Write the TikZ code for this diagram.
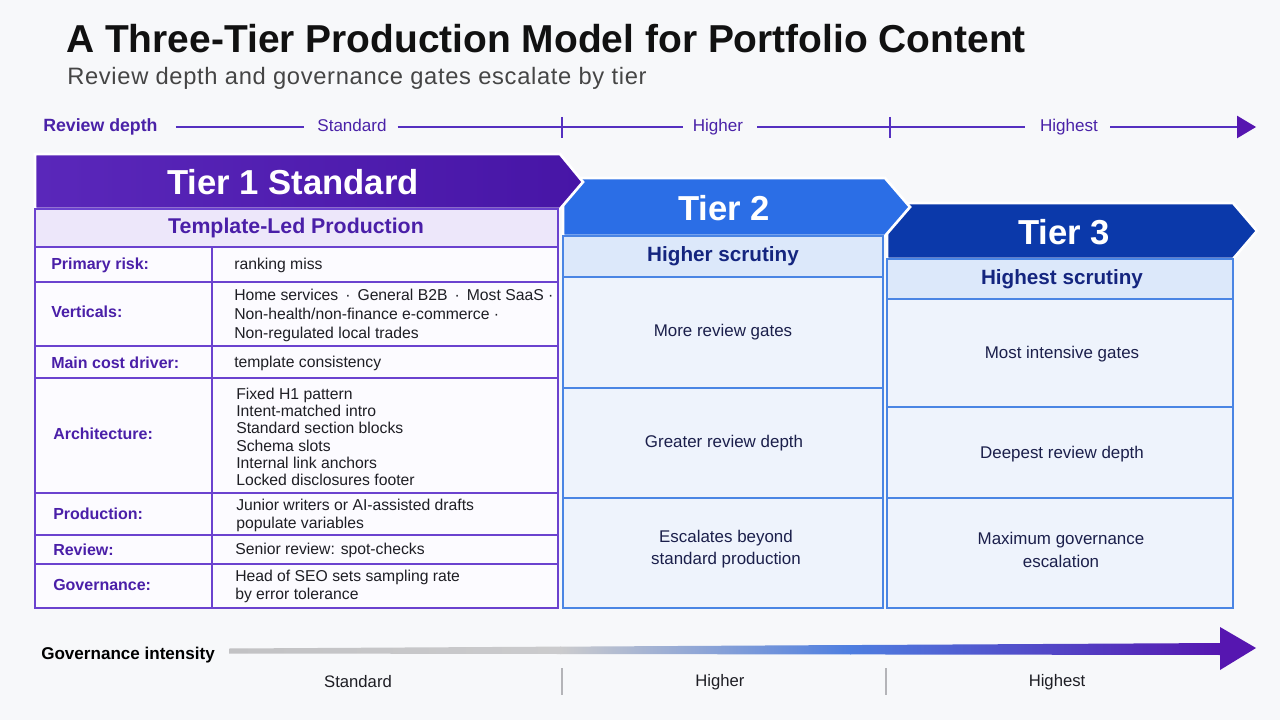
\documentclass[tikz,border=0pt]{standalone}
\usepackage{fontspec}
\setmainfont{Liberation Sans}
\definecolor{bg}{HTML}{F7F8FA}
\definecolor{ttl}{HTML}{111111}
\definecolor{subt}{HTML}{454545}
\definecolor{axp}{HTML}{5530C0}
\definecolor{axtxt}{HTML}{4A22A8}
\definecolor{pA}{HTML}{5A27BA}
\definecolor{pB}{HTML}{4715A6}
\definecolor{lav}{HTML}{EDE7FA}
\definecolor{pline}{HTML}{6B42CF}
\definecolor{ptxt}{HTML}{4A1FA8}
\definecolor{cell1}{HTML}{FCFBFF}
\definecolor{valtxt}{HTML}{1E1E24}
\definecolor{bT2}{HTML}{2B6EE6}
\definecolor{bT3}{HTML}{0B39AA}
\definecolor{bsub}{HTML}{DCE8FA}
\definecolor{bline}{HTML}{4A85E4}
\definecolor{bcell}{HTML}{EEF3FC}
\definecolor{ntxt}{HTML}{14257F}
\definecolor{btxt}{HTML}{1B1F4B}
\definecolor{gGray}{HTML}{C2C2C4}
\definecolor{gBlue}{HTML}{4E7EE0}
\definecolor{gPur}{HTML}{5616B0}
\definecolor{tickg}{HTML}{B4B4B8}
\tikzset{
  axisline/.style={draw=axp, line width=1pt},
  axtick/.style={draw=axp, line width=1pt},
  axlab/.style={font=\fontsize{12.8}{14}\selectfont, text=axtxt, inner sep=0pt, text height=0.9em, text depth=0.2em},
  hdr/.style={draw=white, line width=2pt, line join=miter},
  hdrtxt/.style={font=\bfseries\fontsize{26}{28}\selectfont, text=white},
  subtxt1/.style={font=\bfseries\fontsize{16}{18}\selectfont, text=ptxt},
  subtxt2/.style={font=\bfseries\fontsize{15.5}{18}\selectfont, text=ntxt},
  rowlab/.style={anchor=west, font=\bfseries\fontsize{12}{14}\selectfont, text=ptxt, inner sep=0pt},
  rowval/.style={anchor=west, align=left, font=\fontsize{11.8}{13}\selectfont, text=valtxt, inner sep=0pt},
  t1line/.style={draw=pline, line width=0.9pt},
  t2line/.style={draw=bline, line width=0.9pt},
  bodytxt/.style={align=center, font=\fontsize{12.7}{17}\selectfont, text=btxt},
  botlab/.style={font=\fontsize{12.5}{14}\selectfont, text=valtxt},
}
\begin{document}
\begin{tikzpicture}[x=0.75pt,y=-0.75pt]
\fill[bg] (0,0) rectangle (1280,720);
\useasboundingbox (0,0) rectangle (1280,720);

% Title
\node[anchor=base west, inner sep=0pt, font=\bfseries\fontsize{29.2}{32}\selectfont, text=ttl] (title) at (66,53) {A Three-Tier Production Model for Portfolio Content};
\node[anchor=base west, inner sep=0pt, font=\fontsize{17.8}{20}\selectfont\addfontfeature{LetterSpace=2.8}, text=subt] (subtitle) at (67,85) {Review depth and governance gates escalate by tier};

% Review depth axis
\node[axlab, anchor=west, font=\bfseries\fontsize{13.3}{15}\selectfont] (rd) at (43,127) {Review depth};
\node[axlab] (rstd) at (352,127) {Standard};
\node[axlab] (rhigh) at (718,127) {Higher};
\node[axlab] (rhighest) at (1069,127) {Highest};
\coordinate (rtick1) at (562,127);
\coordinate (rtick2) at (890,127);
\coordinate (rend) at (1237,127);
\coordinate (rtip) at (1256,127);
\draw[axisline] ([xshift=13.5pt]rd.east) -- ([xshift=-9.5pt]rstd.west);
\draw[axisline] ([xshift=8pt]rstd.east) -- ([xshift=-7.5pt]rhigh.west);
\draw[axisline] ([xshift=10.5pt]rhigh.east) -- ([xshift=-11pt]rhighest.west);
\draw[axisline] ([xshift=9pt]rhighest.east) -- (rend);
\draw[axtick] ([yshift=7.5pt]rtick1) -- ([yshift=-8pt]rtick1);
\draw[axtick] ([yshift=7.5pt]rtick2) -- ([yshift=-8pt]rtick2);
\fill[gPur] ([yshift=8.5pt]rend) -- (rtip) -- ([yshift=-8.5pt]rend) -- cycle;

% ---------- Tier 3 ----------
\path[hdr, fill=bT3] (887,203) -- (1233,203) -- (1257,231) -- (1233,259) -- (887,259) -- (887,233) -- cycle;
% ---------- Tier 2 ----------
\path[hdr, fill=bT2] (563,178) -- (885,178) -- (910,207) -- (885,236) -- (563,236) -- cycle;
% ---------- Tier 1 ----------
\path[hdr, left color=pA, right color=pB] (35,154) -- (560,154) -- (583,182) -- (560,209) -- (35,209) -- cycle;

\node[hdrtxt] (t1h) at (293,182) {Tier 1 Standard};
\node[hdrtxt] (t2h) at (724,208) {Tier 2};
\node[hdrtxt] (t3h) at (1064,232) {Tier 3};

% Tier 1 subheader and table
\fill[lav] (35,209) rectangle (558,247);
\fill[cell1] (35,247) rectangle (558,608);
\draw[t1line] (35,209) rectangle (558,608);
\draw[t1line] (35,247) -- (558,247);
\foreach \yy in {282,346,378,493,535,564} { \draw[t1line] (35,\yy) -- (558,\yy); }
\draw[t1line] (212,247) -- (212,608);
\node[subtxt1] (t1s) at (296,228) {Template-Led Production};

\node[rowlab] (l1) at (51,265) {Primary risk:};
\node[rowval] (v1) at (234,265) {ranking miss};
\node[rowlab] (l2) at (51,312) {Verticals:};
\node[rowval, font=\fontsize{11.8}{14.2}\selectfont] (v2) at (234,315) {Home services \,·\, General B2B \,·\, Most SaaS ·\\Non-health/non-finance e-commerce ·\\Non-regulated local trades};
\node[rowlab] (l3) at (51,363) {Main cost driver:};
\node[rowval] (v3) at (234,363) {template consistency};
\node[rowlab] (l4) at (53,434) {Architecture:};
\node[rowval] (v4) at (236,437) {Fixed H1 pattern\\Intent-matched intro\\Standard section blocks\\Schema slots\\Internal link anchors\\Locked disclosures footer};
\node[rowlab] (l5) at (53,514) {Production:};
\node[rowval] (v5) at (236,515.5) {Junior writers or AI-assisted drafts\\populate variables};
\node[rowlab] (l6) at (53,550) {Review:};
\node[rowval] (v6) at (235,550) {Senior review: spot-checks};
\node[rowlab] (l7) at (53,585) {Governance:};
\node[rowval, font=\fontsize{11.8}{13.5}\selectfont] (v7) at (235,586) {Head of SEO sets sampling rate\\by error tolerance};

% Tier 2 body
\fill[bsub] (563,236) rectangle (883,277);
\fill[bcell] (563,277) rectangle (883,608);
\draw[t2line] (563,236) rectangle (883,608);
\foreach \yy in {277,388,498} { \draw[t2line] (563,\yy) -- (883,\yy); }
\node[subtxt2] (t2s) at (723,256) {Higher scrutiny};
\node[bodytxt] (t2a) at (723,332) {More review gates};
\node[bodytxt] (t2b) at (724,443) {Greater review depth};
\node[bodytxt] (t2c) at (726,549) {Escalates beyond\\standard production};

% Tier 3 body
\fill[bsub] (887,259) rectangle (1233,299);
\fill[bcell] (887,299) rectangle (1233,608);
\draw[t2line] (887,259) rectangle (1233,608);
\foreach \yy in {299,407,498} { \draw[t2line] (887,\yy) -- (1233,\yy); }
\node[subtxt2] (t3s) at (1062,279) {Highest scrutiny};
\node[bodytxt] (t3a) at (1062,354) {Most intensive gates};
\node[bodytxt] (t3b) at (1062,454) {Deepest review depth};
\node[bodytxt] (t3c) at (1061,550) {Maximum governance\\escalation};

% Governance intensity axis
\node[anchor=west, inner sep=0pt, font=\bfseries\fontsize{12.8}{15}\selectfont, text=black] (gi) at (41,655) {Governance intensity};
\coordinate (g0) at (230,651);
\coordinate (gend) at (1222,649);
\coordinate (gtip) at (1256,648);
\shade[left color=gGray, right color=gGray!85!white] (229,648.5) -- (561,646.6) -- (561,654.0) -- (229,653.5) -- cycle;
\shade[left color=gGray!85!white, right color=gBlue] (560,646.67) -- (851,645.0) -- (851,654.45) -- (560,654.0) -- cycle;
\shade[left color=gBlue, right color=gPur] (850,645.06) -- (1223,643) -- (1223,655) -- (850,654.44) -- cycle;
\fill[gPur] (1220,627) -- (gtip) -- (1220,670) -- cycle;

\coordinate (gt1) at (562,668);
\coordinate (gt2) at (886,668);
\draw[tickg, line width=0.8pt] (gt1) -- ++(0,27);
\draw[tickg, line width=0.8pt] (gt2) -- ++(0,27);
\node[botlab] (bstd) at (358,682) {Standard};
\node[botlab] (bhigh) at (720,682) {Higher};
\node[botlab] (bhighest) at (1057,682) {Highest};
\end{tikzpicture}
\end{document}
